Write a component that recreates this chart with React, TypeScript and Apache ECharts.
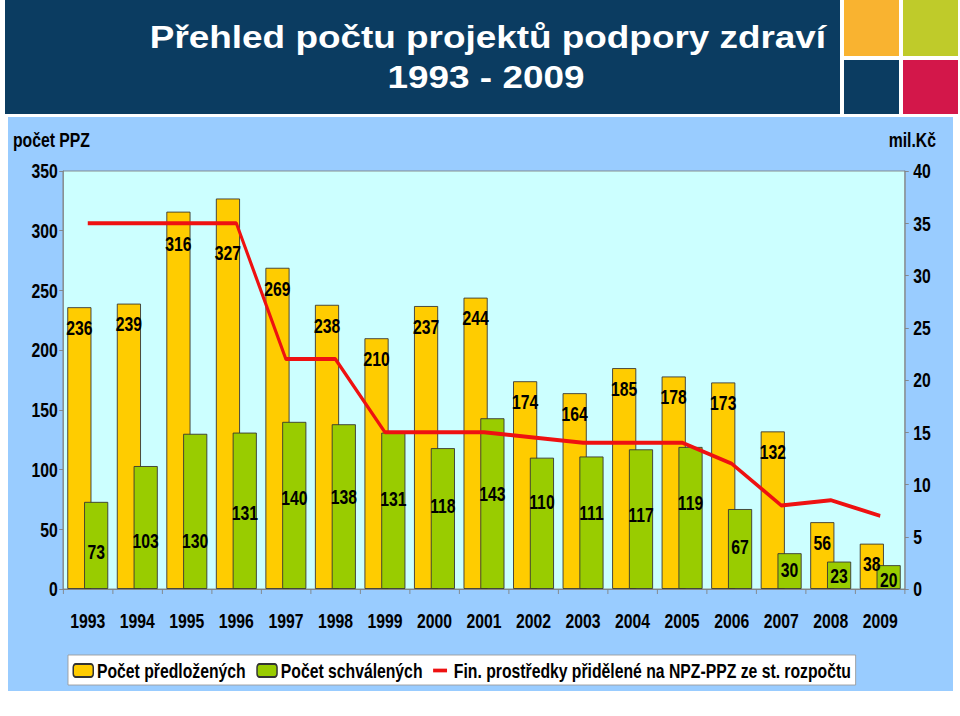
import React, { useEffect, useRef } from "react";
import * as echarts from "echarts";

const years = ["1993", "1994", "1995", "1996", "1997", "1998", "1999", "2000", "2001", "2002", "2003", "2004", "2005", "2006", "2007", "2008", "2009"];
const submitted = [236, 239, 316, 327, 269, 238, 210, 237, 244, 174, 164, 185, 178, 173, 132, 56, 38];
const approved = [73, 103, 130, 131, 140, 138, 131, 118, 143, 110, 111, 117, 119, 67, 30, 23, 20];
const funds = [35, 35, 35, 35, 22, 22, 15, 15, 15, 14.5, 14, 14, 14, 12, 8, 8.5, 7];

const seriesNames = ["Počet předložených", "Počet schválených", "Fin. prostředky přidělené na NPZ-PPZ ze st. rozpočtu"];
const titleLines = ["Přehled počtu projektů podpory zdraví", "1993 - 2009"];
const leftAxisName = "počet PPZ";
const rightAxisName = "mil.Kč";

// label nudges (vertical, px) reproducing the hand-placed labels of the original
const submittedLabelNudge = [0, 0, 12, 34, 0, 0, 0, 0, 0, 0, 0, 0, 0, 0, 0, 0, 0];
const approvedLabelNudge = [6, 13, 29, 2, -8, -10, -12, -13, -10, -22, -10, -4, -15, -2, -1, 0, 3];

// The original uses a narrow typeface; the chart is laid out in a wider space and
// condensed horizontally, so that a regular bold sans reads as a narrow one.
const S = 0.75;
const W = 960 / S;
const X = (px: number) => px / S;
const FONT = '"Liberation Sans", Arial, Helvetica, sans-serif';
const LINE_ICON = "path://M0,0 M0,5 L20,5 L20,9 L0,9 Z M20,14";

export default function App() {
  const ref = useRef<HTMLDivElement>(null);
  useEffect(() => {
    if (!ref.current) return;
    const chart = echarts.init(ref.current, null, { renderer: "svg" });
    const labelFont = { fontFamily: FONT, fontSize: 21, fontWeight: "bold" as const, color: "#000" };
    const rect = (x: number, y: number, w: number, h: number, fill: string) => ({
      type: "rect", z: -100, shape: { x: X(x), y, width: X(w), height: h }, style: { fill },
    });
    const option = {
      animation: false,
      backgroundColor: "#ffffff",
      graphic: [
        rect(5, 0, 835, 114, "#0B3C61"),
        rect(844, 0, 55, 56, "#F9B330"),
        rect(903, 0, 55, 56, "#BFCB2A"),
        rect(844, 60, 55, 54, "#0B3C61"),
        rect(903, 60, 55, 54, "#D3174A"),
        rect(8, 117, 945, 574, "#99CCFF"),
        {
          type: "group", x: X(488), y: 37, scaleX: 1.19 / S, z: 50,
          children: [{ type: "text", style: { text: titleLines[0], x: 0, y: 0, align: "center", verticalAlign: "middle", fill: "#fff", font: `bold 31px ${FONT}` } }],
        },
        {
          type: "group", x: X(486), y: 77, scaleX: 1.19 / S, z: 50,
          children: [{ type: "text", style: { text: titleLines[1], x: 0, y: 0, align: "center", verticalAlign: "middle", fill: "#fff", font: `bold 31px ${FONT}` } }],
        },
        { type: "text", z: 50, style: { text: leftAxisName, x: X(13), y: 140, align: "left", verticalAlign: "middle", fill: "#000", font: `bold 21px ${FONT}` } },
        { type: "text", z: 50, style: { text: rightAxisName, x: X(936), y: 140, align: "right", verticalAlign: "middle", fill: "#000", font: `bold 21px ${FONT}` } },
      ],
      grid: {
        left: X(63), right: X(55), top: 171, bottom: 127,
        show: true, backgroundColor: "#CCFFFF", borderColor: "#808080", borderWidth: 1,
      },
      legend: {
        left: X(68), top: 655,
        backgroundColor: "#ffffff", borderColor: "#999", borderWidth: 1,
        padding: [5, 6, 4, 6], itemGap: 14, itemWidth: X(20), itemHeight: 13,
        textStyle: { fontFamily: FONT, fontSize: 21, fontWeight: "bold", color: "#000" },
        data: [
          { name: seriesNames[0] },
          { name: seriesNames[1] },
          { name: seriesNames[2], icon: LINE_ICON, itemStyle: { color: "#EE1111", borderWidth: 0 } },
        ],
      },
      xAxis: {
        type: "category", data: years,
        axisLine: { lineStyle: { color: "#808080" } },
        axisTick: { show: true, length: 5, lineStyle: { color: "#808080" } },
        axisLabel: { ...labelFont, margin: 21, interval: 0 },
      },
      yAxis: [
        {
          type: "value", min: 0, max: 350, interval: 50, position: "left",
          axisLine: { show: true, lineStyle: { color: "#808080" } },
          axisTick: { show: true, length: 5, lineStyle: { color: "#808080" } },
          splitLine: { show: false },
          axisLabel: { ...labelFont, margin: 7 },
        },
        {
          type: "value", min: 0, max: 40, interval: 5, position: "right",
          axisLine: { show: true, lineStyle: { color: "#808080" } },
          axisTick: { show: true, length: 5, lineStyle: { color: "#808080" } },
          splitLine: { show: false },
          axisLabel: { ...labelFont, margin: 11 },
        },
      ],
      series: [
        {
          name: seriesNames[0], type: "bar", yAxisIndex: 0, barWidth: X(24), barGap: "-30%",
          itemStyle: { color: "#FFCC00", borderColor: "#333", borderWidth: 1 },
          label: { show: true, position: "insideTop", distance: 10, ...labelFont },
          data: submitted.map((v, i) => ({ value: v, label: { offset: [0, submittedLabelNudge[i]] } })),
        },
        {
          name: seriesNames[1], type: "bar", yAxisIndex: 0, barWidth: X(24),
          itemStyle: { color: "#99CC00", borderColor: "#333", borderWidth: 1 },
          label: { show: true, position: "inside", ...labelFont },
          data: approved.map((v, i) => ({ value: v, label: { offset: [0, approvedLabelNudge[i]] } })),
        },
        {
          name: seriesNames[2], type: "line", yAxisIndex: 1, symbol: "none", z: 10,
          lineStyle: { color: "#EE1111", width: 4 }, itemStyle: { color: "#EE1111" },
          data: funds,
        },
      ],
    };
    chart.setOption(option as any);
    return () => chart.dispose();
  }, []);
  return (
    <div
      ref={ref}
      style={{ position: "absolute", left: 0, top: 0, width: W, height: 716, transform: `scaleX(${S})`, transformOrigin: "0 0" }}
    />
  );
}
